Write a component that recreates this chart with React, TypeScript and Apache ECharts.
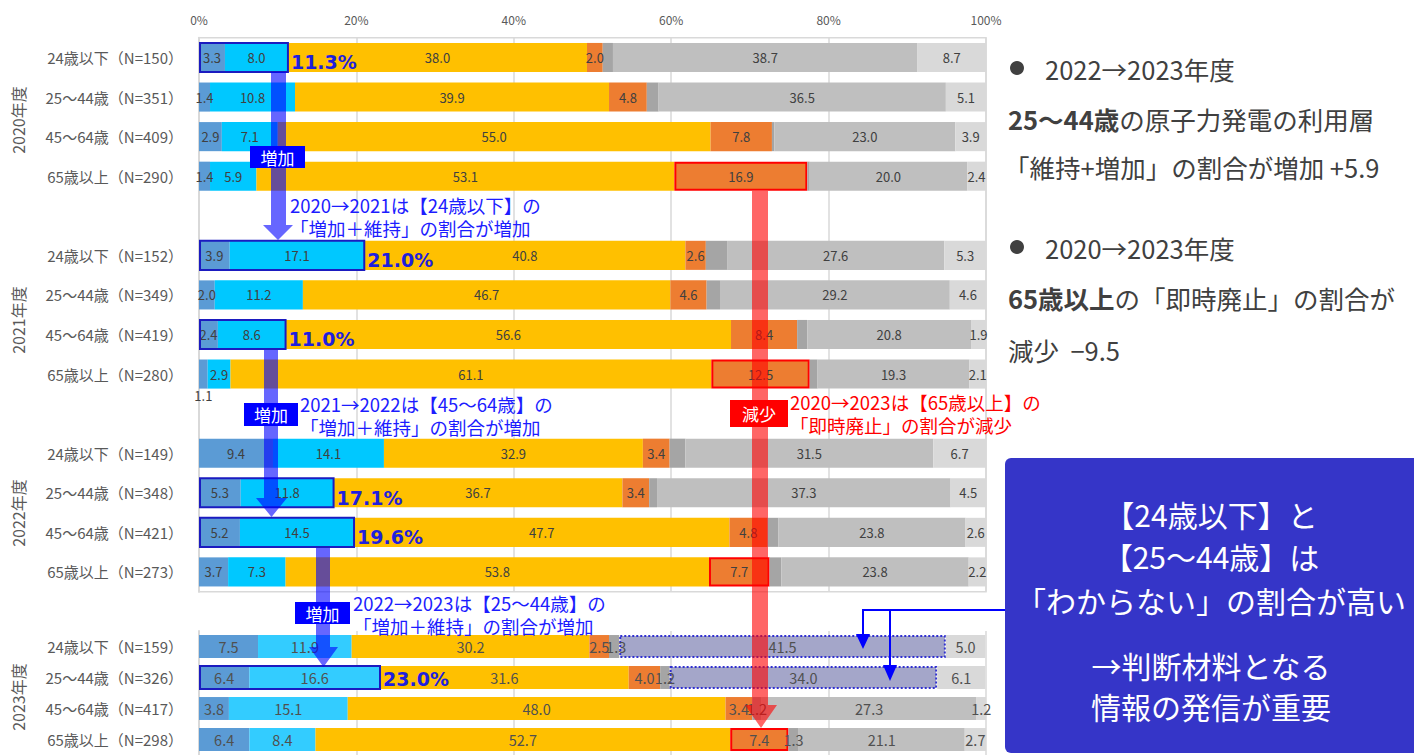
import React, { useEffect, useRef } from 'react';
import * as echarts from 'echarts';

const SEGMENTS = ['増加', '維持', '縮小', '即時廃止', 'その他', 'わからない', '無回答'];
const SEG_COLORS = ['#5B9BD5', '#00C8FF', '#FFC000', '#ED7D31', '#A5A5A5', '#BFBFBF', '#D9D9D9'];
const SEG_COLORS_2023 = ['#5B9BD5', '#33CCFF', '#FFC000', '#ED7D31', '#A5A5A5', '#BFBFBF', '#D9D9D9'];

const YEARS = ['2020年度', '2021年度', '2022年度', '2023年度'];
const ROWS_2020 = ['24歳以下（N=150）', '25～44歳（N=351）', '45～64歳（N=409）', '65歳以上（N=290）'];
const ROWS_2021 = ['24歳以下（N=152）', '25～44歳（N=349）', '45～64歳（N=419）', '65歳以上（N=280）'];
const ROWS_2022 = ['24歳以下（N=149）', '25～44歳（N=348）', '45～64歳（N=421）', '65歳以上（N=273）'];
const ROWS_2023 = ['24歳以下（N=159）', '25～44歳（N=326）', '45～64歳（N=417）', '65歳以上（N=298）'];

const VALUES_2020 = [
  [3.3, 8.0, 38.0, 2.0, 1.3, 38.7, 8.7],
  [1.4, 10.8, 39.9, 4.8, 1.5, 36.5, 5.1],
  [2.9, 7.1, 55.0, 7.8, 0.3, 23.0, 3.9],
  [1.4, 5.9, 53.1, 16.9, 0.3, 20.0, 2.4],
];
const VALUES_2021 = [
  [3.9, 17.1, 40.8, 2.6, 2.7, 27.6, 5.3],
  [2.0, 11.2, 46.7, 4.6, 1.7, 29.2, 4.6],
  [2.4, 8.6, 56.6, 8.4, 1.3, 20.8, 1.9],
  [1.1, 2.9, 61.1, 12.5, 1.0, 19.3, 2.1],
];
const VALUES_2022 = [
  [9.4, 14.1, 32.9, 3.4, 2.0, 31.5, 6.7],
  [5.3, 11.8, 36.7, 3.4, 1.0, 37.3, 4.5],
  [5.2, 14.5, 47.7, 4.8, 1.4, 23.8, 2.6],
  [3.7, 7.3, 53.8, 7.7, 1.5, 23.8, 2.2],
];
const VALUES_2023 = [
  [7.5, 11.9, 30.2, 2.5, 1.3, 41.5, 5.0],
  [6.4, 16.6, 31.6, 4.0, 1.2, 34.0, 6.1],
  [3.8, 15.1, 48.0, 3.4, 1.2, 27.3, 1.2],
  [6.4, 8.4, 52.7, 7.4, 1.3, 21.1, 2.7],
];

const X_TICK_STEP = 20;

// highlighted rows: "増加+維持" boxes
const BLUE_BOXES = [
  { year: 0, row: 0, label: '11.3%' },
  { year: 1, row: 0, label: '21.0%' },
  { year: 1, row: 2, label: '11.0%' },
  { year: 2, row: 1, label: '17.1%' },
  { year: 2, row: 2, label: '19.6%' },
  { year: 3, row: 1, label: '23.0%' },
];
// "即時廃止" boxes [year, row]
const RED_BOXES = [[0, 3], [1, 3], [2, 3], [3, 3]];
// "わからない" boxes [year, row]
const UNKNOWN_BOXES = [[3, 0], [3, 1]];

const FONT = '"Noto Sans CJK JP", "Noto Sans", sans-serif';

const ALL_VALUES = [VALUES_2020, VALUES_2021, VALUES_2022, VALUES_2023];

function isIn(list: number[][], y: number, r: number) {
  return list.some((p) => p[0] === y && p[1] === r);
}

function makeItem(v: number, s: number, y: number, r: number) {
  const item: any = { value: v };
  if (y < 3 && s === 4) item.label = { show: false };
  if (y === 1 && r === 3 && s === 0) item.label = { position: 'bottom', distance: 0 };
  if (y === 3 && r === 0 && s === 4) item.label = { offset: [2, 0] };
  if (s === 3 && isIn(RED_BOXES, y, r)) {
    item.itemStyle = { borderColor: '#FF0000', borderWidth: 2 };
  }
  if (s === 5 && isIn(UNKNOWN_BOXES, y, r)) {
    item.itemStyle = { color: '#A4A6C9', borderColor: '#3030D0', borderWidth: 2, borderType: [2, 2] };
  }
  return item;
}

const CATS_1 = [...ROWS_2020, '', ...ROWS_2021, ' ', ...ROWS_2022];

function boxRenderer(list: any[], dy: number) {
  return (params: any, api: any) => {
    const cat = api.value(0);
    const total = api.value(1);
    const p0 = api.coord([0, cat]);
    const p1 = api.coord([total, cat]);
    const h = api.size([0, 1])[1] * 0.735;
    const lab = list[params.dataIndex].label;
    return {
      type: 'group',
      children: [
        {
          type: 'rect',
          shape: { x: p0[0] + 1, y: p0[1] - h / 2, width: p1[0] - p0[0] - 1, height: h },
          style: { fill: 'none', stroke: '#1B1BC0', lineWidth: 2 },
        },
        {
          type: 'text',
          x: p1[0] + 3,
          y: p1[1] + dy,
          style: {
            text: lab,
            fill: '#1F1FDD',
            font: 'bold 19px "DejaVu Sans", sans-serif',
            align: 'left',
            verticalAlign: 'middle',
            textAlign: 'left',
            textVerticalAlign: 'middle',
          },
        },
      ],
    };
  };
}

function arrow(xl: number, xr: number, y0: number, yh: number, hl: number, hr: number, tip: number, fill: string) {
  const cx = (hl + hr) / 2;
  return {
    type: 'polygon',
    z: 100,
    shape: { points: [[xl, y0], [xr, y0], [xr, yh], [hr, yh], [cx, tip], [hl, yh], [xl, yh]] },
    style: { fill },
  };
}

function tag(x: number, y: number, w: number, h: number, text: string, fill: string) {
  return [
    { type: 'rect', z: 110, shape: { x, y, width: w, height: h }, style: { fill } },
    {
      type: 'text', z: 111, x: x + w / 2, y: y + h / 2,
      style: { text, fill: '#FFFFFF', font: `17px ${FONT}`, align: 'center', verticalAlign: 'middle' },
    },
  ];
}

function note(x: number, y: number, text: string, fill: string, size = 18.5) {
  return {
    type: 'text', z: 110, x, y,
    style: { text, fill, font: `${size}px ${FONT}`, lineHeight: 23, align: 'left', verticalAlign: 'top' },
  };
}

export default function App() {
  const ref = useRef<HTMLDivElement>(null);
  useEffect(() => {
    document.body.style.margin = '0';
    const chart = echarts.init(ref.current!, null, { renderer: 'svg' });

    const series: any[] = [];
    SEGMENTS.forEach((name, s) => {
      const data1: any[] = [];
      [0, 1, 2].forEach((y) => {
        ALL_VALUES[y].forEach((row, r) => data1.push(makeItem(row[s], s, y, r)));
        if (y < 2) data1.push('-');
      });
      series.push({
        type: 'bar', name, stack: 'g1', xAxisIndex: 0, yAxisIndex: 0,
        barWidth: '73.5%',
        itemStyle: { color: SEG_COLORS[s] },
        label: { show: true, position: 'inside', color: '#404040', fontSize: 13, fontFamily: FONT, formatter: (p: any) => Number(p.value).toFixed(1) },
        emphasis: { disabled: true },
        data: data1,
      });
    });
    SEGMENTS.forEach((name, s) => {
      const data2 = VALUES_2023.map((row, r) => makeItem(row[s], s, 3, r));
      series.push({
        type: 'bar', name, stack: 'g2', xAxisIndex: 1, yAxisIndex: 1,
        barWidth: '74%',
        itemStyle: { color: SEG_COLORS_2023[s] },
        label: { show: true, position: 'inside', color: '#505050', fontSize: 14.5, fontFamily: FONT, formatter: (p: any) => Number(p.value).toFixed(1) },
        emphasis: { disabled: true },
        data: data2,
      });
    });

    const boxes1 = BLUE_BOXES.filter((b) => b.year < 3);
    const boxes2 = BLUE_BOXES.filter((b) => b.year === 3);
    series.push({
      type: 'custom', xAxisIndex: 0, yAxisIndex: 0, z: 10,
      encode: { x: 1, y: 0 },
      renderItem: boxRenderer(boxes1, 5),
      data: boxes1.map((b) => [b.year * 5 + b.row, ALL_VALUES[b.year][b.row][0] + ALL_VALUES[b.year][b.row][1]]),
    });
    series.push({
      type: 'custom', xAxisIndex: 1, yAxisIndex: 1, z: 10,
      encode: { x: 1, y: 0 },
      renderItem: boxRenderer(boxes2, 1),
      data: boxes2.map((b) => [b.row, ALL_VALUES[b.year][b.row][0] + ALL_VALUES[b.year][b.row][1]]),
    });

    const yearLabels = [120, 320, 513, 697].map((cy, i) => ({
      type: 'text', x: 18, y: cy, rotation: Math.PI / 2,
      style: { text: YEARS[i], fill: '#595959', font: `16px ${FONT}`, align: 'center', verticalAlign: 'middle' },
    }));

    const rightText = [
      { type: 'circle', shape: { cx: 1017, cy: 68, r: 7 }, style: { fill: '#404040' } },
      { t: '2022→2023年度', x: 1045, y: 68 },
      { t: '{b|25～44歳}の原子力発電の利用層', x: 1008, y: 118 },
      { t: '「維持+増加」の割合が増加 +5.9', x: 1004, y: 166 },
      { type: 'circle', shape: { cx: 1017, cy: 247, r: 7 }, style: { fill: '#404040' } },
      { t: '2020→2023年度', x: 1045, y: 247 },
      { t: '{b|65歳以上}の「即時廃止」の割合が', x: 1008, y: 297 },
      { t: '減少  −9.5', x: 1008, y: 349 },
    ].map((e: any) =>
      e.type
        ? e
        : {
            type: 'text', x: e.x, y: e.y,
            style: {
              text: e.t, fill: '#404040', font: `25.5px ${FONT}`, align: 'left', verticalAlign: 'middle',
              rich: { b: { fontWeight: 'bold', fontSize: 25.5, fontFamily: FONT, fill: '#404040' } },
            },
          }
    );

    const boxLines = [
      { t: '【24歳以下】と', y: 514 },
      { t: '【25～44歳】は', y: 556 },
      { t: '「わからない」の割合が高い', y: 600 },
      { t: '→判断材料となる', y: 665 },
      { t: '情報の発信が重要', y: 706 },
    ].map((l) => ({
      type: 'text', z: 121, x: 1211, y: l.y,
      style: { text: l.t, fill: '#FFFFFF', font: `30px ${FONT}`, align: 'center', verticalAlign: 'middle' },
    }));

    const graphic: any[] = [
      ...yearLabels,
      ...rightText,
      // arrows
      arrow(271, 286, 72, 225, 263, 293, 240, 'rgba(0,0,255,0.6)'),
      arrow(264, 278, 350, 498, 256, 287, 517, 'rgba(0,0,255,0.6)'),
      arrow(316, 330, 548, 647, 309, 338, 667, 'rgba(0,0,255,0.6)'),
      arrow(752, 768, 191, 705, 745, 777, 728, 'rgba(255,0,0,0.6)'),
      ...tag(250, 146, 55, 22, '増加', '#0000FF'),
      ...tag(244, 403, 54, 23, '増加', '#0000FF'),
      ...tag(295, 602, 55, 22, '増加', '#0000FF'),
      ...tag(730, 400, 58, 27, '減少', '#FF0000'),
      note(290, 193, '2020→2021は【24歳以下】の\n「増加＋維持」の割合が増加', '#1C1CFF'),
      note(300, 392, '2021→2022は【45～64歳】の\n「増加＋維持」の割合が増加', '#1C1CFF'),
      note(353, 591, '2022→2023は【25～44歳】の\n「増加＋維持」の割合が増加', '#1C1CFF'),
      note(790, 390, '2020→2023は【65歳以上】の\n「即時廃止」の割合が減少', '#FF0000'),
      // connector
      { type: 'line', z: 105, shape: { x1: 863, y1: 610, x2: 1006, y2: 610 }, style: { stroke: '#0000FF', lineWidth: 2 } },
      { type: 'line', z: 105, shape: { x1: 863, y1: 609, x2: 863, y2: 636 }, style: { stroke: '#0000FF', lineWidth: 2 } },
      { type: 'polygon', z: 105, shape: { points: [[856, 634], [870, 634], [863, 649]] }, style: { fill: '#0000FF' } },
      { type: 'line', z: 105, shape: { x1: 890, y1: 609, x2: 890, y2: 667 }, style: { stroke: '#0000FF', lineWidth: 2 } },
      { type: 'polygon', z: 105, shape: { points: [[883, 665], [897, 665], [890, 681]] }, style: { fill: '#0000FF' } },
      // message box
      { type: 'rect', z: 120, shape: { x: 1005, y: 458, width: 430, height: 295, r: 6 }, style: { fill: '#3535C8' } },
      ...boxLines,
    ];

    const xAxisBase = {
      type: 'value', min: 0, max: 100, interval: X_TICK_STEP,
      axisTick: { show: false }, axisLine: { show: false },
      splitLine: { show: true, lineStyle: { color: '#D9D9D9', width: 1.5 } },
    };
    const yAxisBase = {
      type: 'category', inverse: true,
      axisTick: { show: false },
      axisLine: { show: true, lineStyle: { color: '#D9D9D9', width: 2 } },
      axisLabel: { color: '#595959', fontSize: 15, fontFamily: FONT, margin: 16 },
    };

    chart.setOption({
      animation: false,
      textStyle: { fontFamily: FONT },
      grid: [
        { left: 199, right: 428, top: 37.7, height: 554, show: true, borderColor: '#D9D9D9', borderWidth: 1.5 },
        { left: 199, right: 428, top: 631, height: 124 },
      ],
      xAxis: [
        {
          ...xAxisBase, gridIndex: 0, position: 'top',
          axisLabel: { show: true, color: '#595959', fontSize: 12, margin: 12, formatter: (v: number) => `${v}%` },
        },
        { ...xAxisBase, gridIndex: 1, position: 'top', axisLabel: { show: false } },
      ],
      yAxis: [
        { ...yAxisBase, gridIndex: 0, data: CATS_1 },
        { ...yAxisBase, gridIndex: 1, data: ROWS_2023 },
      ],
      series,
      graphic,
    });
    return () => chart.dispose();
  }, []);
  return <div ref={ref} style={{ width: 1414, height: 755 }} />;
}
